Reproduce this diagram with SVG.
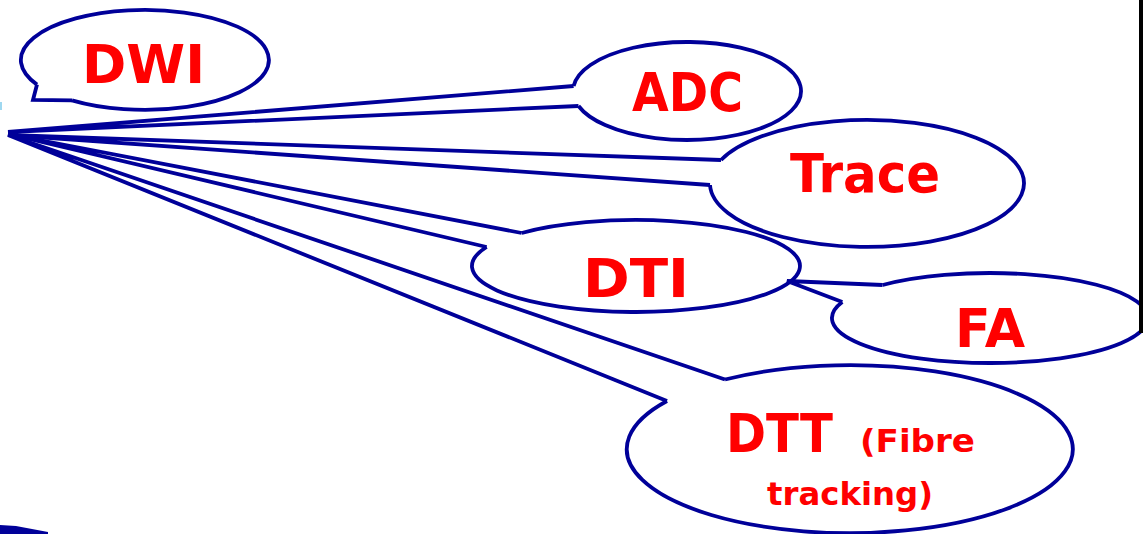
<svg xmlns="http://www.w3.org/2000/svg" width="1143" height="534" viewBox="0 0 1143 534">
  <style>
    .callout { fill: none; stroke: #000099; stroke-width: 3.8; stroke-linejoin: miter; }
    .lbl { fill: #ff0000; font-family: "DejaVu Sans", "Liberation Sans", sans-serif; font-weight: bold; font-size: 54px; text-anchor: middle; }
    .small { font-size: 32px; }
  </style>
  <rect width="1143" height="534" fill="#ffffff"/>

  <!-- wedge tails of the callouts -->
  <g id="connectors">
    <path id="tail-adc" class="callout" d="M 578.5,106 L 8,132 L 573.6,86"/>
    <path id="tail-trace" class="callout" d="M 710,185 L 8,135 L 721,160"/>
    <path id="tail-dti" class="callout" d="M 486.6,247 L 8,134 L 521.7,233"/>
    <path id="tail-dtt" class="callout" d="M 667,401 L 8,135 L 725,379.5"/>
    <path id="tail-fa" class="callout" d="M 842.3,302 L 787,281 L 882.6,285"/>
    <path id="tail-dwi" class="callout" d="M 72,100.4 L 33,100 L 37,84.6"/>
  </g>

  <g id="node-dwi">
    <path class="callout" d="M 37,84.6 A 124 50 0 1 1 72,100.4"/>
    <text class="lbl" x="143.5" y="83" textLength="123" lengthAdjust="spacingAndGlyphs">DWI</text>
  </g>

  <g id="node-adc">
    <path class="callout" d="M 573.6,86 A 114 49 0 1 1 578.5,106"/>
    <text class="lbl" x="687.5" y="111" textLength="111" lengthAdjust="spacingAndGlyphs">ADC</text>
  </g>

  <g id="node-trace">
    <path class="callout" d="M 721,160 A 157 63.5 0 1 1 710,185"/>
    <text class="lbl" x="865" y="192" textLength="150" lengthAdjust="spacingAndGlyphs">Trace</text>
  </g>

  <g id="node-dti">
    <path class="callout" d="M 521.7,233 A 164 46 0 1 1 486.6,247"/>
    <text class="lbl" x="636" y="297" textLength="106" lengthAdjust="spacingAndGlyphs">DTI</text>
  </g>

  <g id="node-fa">
    <path class="callout" d="M 882.6,285 A 158 45 0 1 1 842.3,302"/>
    <text class="lbl" x="990" y="347" textLength="70" lengthAdjust="spacingAndGlyphs">FA</text>
  </g>

  <g id="node-dtt">
    <path class="callout" d="M 725,379.5 A 223 84 0 1 1 667,401"/>
    <text class="lbl" x="779.5" y="452" textLength="107" lengthAdjust="spacingAndGlyphs">DTT</text>
    <text class="lbl small" x="917.5" y="452" textLength="115" lengthAdjust="spacingAndGlyphs">(Fibre</text>
    <text class="lbl small" x="850" y="505" textLength="166" lengthAdjust="spacingAndGlyphs">tracking)</text>
  </g>

  <!-- slide edge fragments -->
  <rect x="1139" y="0" width="4" height="333" fill="#000000"/>
  <polygon points="0,525 16,526 48,532 48,534 0,534" fill="#000099"/>
  <rect x="0" y="102" width="2" height="8" fill="#9fd8f0"/>
</svg>
